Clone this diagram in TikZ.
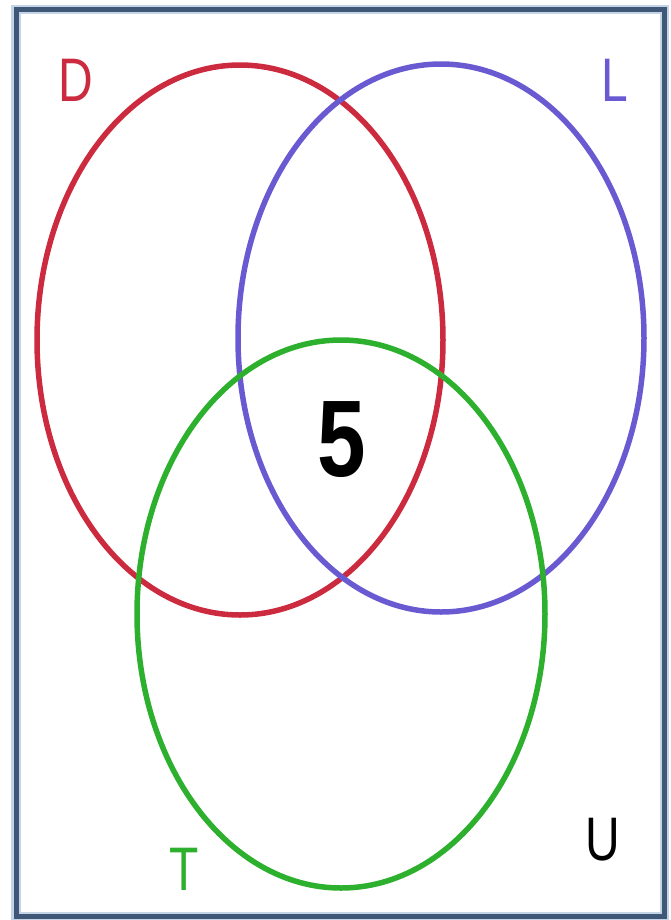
\documentclass[tikz,border=0pt]{standalone}
\usepackage{fontspec}
\setsansfont{Liberation Sans}
\usepackage{tikz}
\usetikzlibrary{positioning}
\definecolor{vennred}{HTML}{CC2A3E}
\definecolor{vennblue}{HTML}{6A5AD2}
\definecolor{venngreen}{HTML}{2DB02D}
\definecolor{frameblue}{HTML}{3F5878}
\definecolor{frameglow}{HTML}{C4D4E6}
\tikzset{
  setline/.style={line width=1.1mm},
  setlbl/.style={font=\sffamily\fontsize{35}{35}\selectfont, inner sep=0pt, xscale=0.78},
  cnt/.style={font=\sffamily\bfseries\fontsize{62}{62}\selectfont, inner sep=0pt, xscale=0.8},
}
\begin{document}
\begin{tikzpicture}[x=0.2mm, y=-0.2mm]
  \useasboundingbox (0,0) rectangle (671,920);
  % ---- universe frame ----
  \draw[frameglow, line width=1.8mm] (16,9) rectangle (664,916);
  \draw[frameblue, line width=1mm] (16,9) rectangle (664,916);
  % ---- the three sets ----
  \draw[setline, vennred] (240,340) ellipse [x radius=203, y radius=275];
  \draw[setline, vennblue] (441,338) ellipse [x radius=203, y radius=274];
  \draw[setline, venngreen] (341,614) ellipse [x radius=204, y radius=274];
  % ---- labels ----
  \node[setlbl, text=vennred] (labD) at (76,80) {D};
  \node[setlbl, text=vennblue] (labL) at (615,80) {L};
  \node[setlbl, text=venngreen] (labT) at (184,869) {T};
  \node[setlbl] (labU) at (603,840) {U};
  \node[cnt] (mid) at (342,440) {5};
\end{tikzpicture}
\end{document}
